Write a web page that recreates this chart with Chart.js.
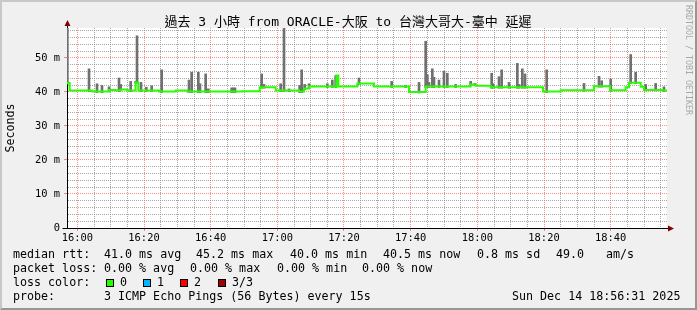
<!DOCTYPE html>
<html>
<head>
<meta charset="utf-8">
<script src="https://cdn.jsdelivr.net/npm/chart.js@4.4.1/dist/chart.umd.min.js"></script>
<style>
body { margin: 0; }
#wrap { position: relative; width: 697px; height: 310px; background: #f0f0f0; overflow: hidden; font-family: "DejaVu Sans Mono", "Noto Sans CJK TC", monospace; color: #000; }
#frame { position: absolute; left: 0; top: 0; width: 697px; height: 310px; box-sizing: border-box; border: 2px solid; border-color: #c8c8c8 #969696 #969696 #c8c8c8; pointer-events: none; }
canvas { position: absolute; left: 0; top: 0; }
#title { position: absolute; left: 0; top: 14px; width: 696px; text-align: center; font-size: 13px; line-height: 15px; white-space: pre; }
#mark { position: absolute; left: 684px; top: 5px; writing-mode: vertical-rl; font-size: 8.3px; line-height: 9px; color: #a8a8a8; white-space: pre; }
.t { position: absolute; white-space: pre; font-size: 11.66px; line-height: 14px; }
.box { position: absolute; width: 8px; height: 8px; box-sizing: border-box; border: 1px solid #000; }
</style>
</head>
<body>
<div id="wrap">
  <canvas id="mycanvas" width="697" height="310"></canvas>
  <div id="title">過去 3 小時 from ORACLE-大阪 to 台灣大哥大-臺中 延遲</div>
  <div id="mark">RRDTOOL / TOBI OETIKER</div>

  <div class="t" style="left:13px;top:247px">median rtt:</div>
  <div class="t" style="left:104px;top:247px">41.0 ms avg</div>
  <div class="t" style="left:196px;top:247px">45.2 ms max</div>
  <div class="t" style="left:290px;top:247px">40.0 ms min</div>
  <div class="t" style="left:383px;top:247px">40.5 ms now</div>
  <div class="t" style="left:477px;top:247px">0.8 ms sd</div>
  <div class="t" style="left:556px;top:247px">49.0</div>
  <div class="t" style="left:606px;top:247px">am/s</div>

  <div class="t" style="left:13px;top:261px">packet loss:</div>
  <div class="t" style="left:104px;top:261px">0.00 % avg</div>
  <div class="t" style="left:190px;top:261px">0.00 % max</div>
  <div class="t" style="left:277px;top:261px">0.00 % min</div>
  <div class="t" style="left:362px;top:261px">0.00 % now</div>

  <div class="t" style="left:13px;top:275px">loss color:</div>
  <div class="box" style="left:106px;top:279px;background:#26ff00"></div>
  <div class="t" style="left:120px;top:275px">0</div>
  <div class="box" style="left:143px;top:279px;background:#00b8ff"></div>
  <div class="t" style="left:157px;top:275px">1</div>
  <div class="box" style="left:180px;top:279px;background:#ff0000"></div>
  <div class="t" style="left:194px;top:275px">2</div>
  <div class="box" style="left:218px;top:279px;background:#a00000"></div>
  <div class="t" style="left:232px;top:275px">3/3</div>

  <div class="t" style="left:13px;top:289px">probe:</div>
  <div class="t" style="left:104px;top:289px">3 ICMP Echo Pings (56 Bytes) every 15s</div>
  <div class="t" style="left:512px;top:289px">Sun Dec 14 18:56:31 2025</div>
  <div id="frame"></div>
</div>
<script>
// minutes after 16:00, median rtt in ms (step changes)
var medianTimes = [-3.1, -2.3, 4.5, 9.5, 11.5, 13, 15, 17.5, 18.3, 24.5, 29.5, 33, 49.5, 54.7, 59.5, 66.5, 68, 69.5, 77.7, 78.3, 84, 89, 99.5, 104.5, 115.5, 118, 119.5, 124, 139.7, 145, 155, 159.8, 164.5, 165.5, 169, 170, 175.5, 176.9];
var medianValues = [42.6, 40.4, 40.1, 40.6, 40.4, 40.7, 40.4, 42.8, 40.4, 40.1, 40.4, 40.1, 40.2, 41.4, 40.4, 40.1, 41.0, 41.6, 44.8, 41.6, 42.5, 41.6, 40.0, 41.6, 41.6, 42.2, 41.8, 41.4, 40.1, 40.5, 41.7, 40.5, 41.4, 42.7, 41.5, 40.6, 40.4, 40.4];

// smoke spikes: time and highest ping in ms
var spikeTimes = [-3.0, 3.5, 5.9, 7.4, 9.5, 12.5, 13.0, 16.0, 17.5, 17.9, 19.1, 20.7, 22.3, 25.3, 33.5, 34.3, 36.3, 36.8, 38.5, 39.3, 46.3, 46.8, 47.3, 55.3, 56.0, 61.0, 62.0, 63.5, 66.7, 67.3, 68.2, 69.5, 75.0, 76.5, 77.5, 84.5, 94.3, 98.5, 102.5, 104.5, 105.0, 105.5, 106.5, 107.0, 108.5, 110.0, 111.0, 113.5, 118.0, 119.3, 124.3, 124.7, 126.5, 127.3, 129.5, 132.0, 132.5, 133.5, 134.3, 140.8, 152.0, 156.5, 157.3, 160.0, 166.0, 167.5, 170.5, 173.5, 176.0];
var spikeTops = [61, 46.8, 42.4, 41.9, 41.5, 44.1, 42.2, 43.1, 43.1, 56.5, 42.8, 41.4, 41.8, 46.5, 43.5, 45.8, 45.8, 42.4, 45.3, 40.9, 41.2, 41.2, 41.2, 45.3, 42.2, 42.4, 61, 40.9, 41.9, 46.5, 42.2, 42.4, 42.4, 43.5, 44.8, 44.1, 43.1, 41.9, 42.8, 54.9, 45.1, 42.8, 46.8, 44.3, 43.5, 46.1, 45.5, 42.2, 43.1, 42.5, 45.5, 42.4, 44.5, 46.5, 42.8, 48.4, 42.2, 46.8, 45.3, 46.5, 42.5, 44.6, 43.3, 43.8, 51.0, 45.8, 42.2, 42.5, 41.5];

var xTickLabels = ['16:00', '16:20', '16:40', '17:00', '17:20', '17:40', '18:00', '18:20', '18:40'];
var yTickLabels = ['0', '10 m', '20 m', '30 m', '40 m', '50 m'];

function medianAt(t) {
	var v = medianValues[0];
	for (var i = 0; i < medianTimes.length; i++) {
		if (medianTimes[i] <= t) v = medianValues[i];
	}
	return v;
}

var medianData = [];
for (var i in medianTimes) medianData.push({x: medianTimes[i], y: medianValues[i]});
var smokeData = [];
for (var j in spikeTimes) smokeData.push({x: spikeTimes[j], y: [medianAt(spikeTimes[j]) - 0.3, spikeTops[j]]});

var xTicks = [], yTicks = [];
for (var m = 0; m <= 175; m += 5) xTicks.push({value: m});
for (var s = 0; s <= 58; s += 2) yTicks.push({value: s});

var minor = 'rgba(130,130,130,0.7)';
var major = 'rgba(255,0,0,0.45)';

// white plot area + rrdtool style arrows
var frame = {
	id: 'frame',
	beforeDraw: function(chart) {
		var c = chart.ctx, a = chart.chartArea;
		c.save();
		c.fillStyle = '#fff';
		c.fillRect(a.left, a.top, a.right - a.left, a.bottom - a.top);
		c.restore();
	},
	afterDraw: function(chart) {
		var c = chart.ctx, a = chart.chartArea;
		var x0 = Math.round(a.left) + 0.5, y0 = Math.round(a.bottom) + 0.5;
		c.save();
		c.strokeStyle = '#000';
		c.beginPath();
		c.moveTo(x0 - 5, y0); c.lineTo(a.right + 1, y0);
		c.moveTo(x0, a.top); c.lineTo(x0, a.top - 2);
		c.stroke();
		c.fillStyle = '#7f0000';
		c.beginPath();
		c.moveTo(x0 - 3, a.top - 2); c.lineTo(x0 + 3, a.top - 2); c.lineTo(x0, a.top - 8);
		c.closePath(); c.fill();
		c.beginPath();
		c.moveTo(a.right + 1, y0 - 3); c.lineTo(a.right + 1, y0 + 3); c.lineTo(a.right + 7, y0);
		c.closePath(); c.fill();
		c.restore();
	}
};

Chart.defaults.font.family = '"DejaVu Sans Mono", monospace';
Chart.defaults.color = '#000';

var ctx = document.getElementById('mycanvas');
var LineGraph = new Chart(ctx, {
	type: 'bar',
	data: {
		datasets: [
			{
				type: 'line',
				label: 'median rtt',
				data: medianData,
				borderColor: '#26ff00',
				borderWidth: 2,
				stepped: true,
				pointRadius: 0,
				order: 0
			},
			{
				type: 'bar',
				label: 'smoke',
				data: smokeData,
				backgroundColor: '#707070',
				barThickness: 2,
				order: 1
			}
		]
	},
	options: {
		responsive: false,
		animation: false,
		layout: {padding: {top: 28, right: 30, left: 0, bottom: 0}},
		plugins: {legend: {display: false}, tooltip: {enabled: false}},
		scales: {
			x: {
				type: 'linear',
				min: -3.1,
				max: 176.9,
				offset: false,
				afterBuildTicks: function(scale) { scale.ticks = xTicks.slice(); },
				afterFit: function(scale) { scale.height = 82; },
				grid: {
					offset: false,
					color: function(c) { return c.tick && c.tick.value % 20 === 0 ? major : minor; },
					tickColor: function(c) { return c.tick && c.tick.value % 20 === 0 ? major : 'transparent'; },
					tickLength: 3
				},
				border: {color: '#000', dash: [1, 1]},
				ticks: {
					autoSkip: false,
					maxRotation: 0,
					padding: 1,
					font: {size: 10.4},
					callback: function(v) { return v % 20 === 0 ? xTickLabels[v / 20] : ''; }
				}
			},
			y: {
				min: 0,
				max: 58.8,
				afterBuildTicks: function(scale) { scale.ticks = yTicks.slice(); },
				afterFit: function(scale) { scale.width = 67; },
				grid: {
					color: function(c) { return c.tick && c.tick.value % 10 === 0 ? major : minor; },
					tickColor: function(c) { return c.tick && c.tick.value % 10 === 0 ? major : 'transparent'; },
					tickLength: 3
				},
				border: {color: '#000', dash: [1, 1]},
				ticks: {
					autoSkip: false,
					padding: 4,
					font: {size: 10.4},
					callback: function(v) { return v % 10 === 0 ? yTickLabels[v / 10] : ''; }
				},
				title: {
					display: true,
					text: 'Seconds',
					font: {size: 11.66},
					padding: {top: 4, bottom: 0}
				}
			}
		}
	},
	plugins: [frame]
});
</script>
</body>
</html>
